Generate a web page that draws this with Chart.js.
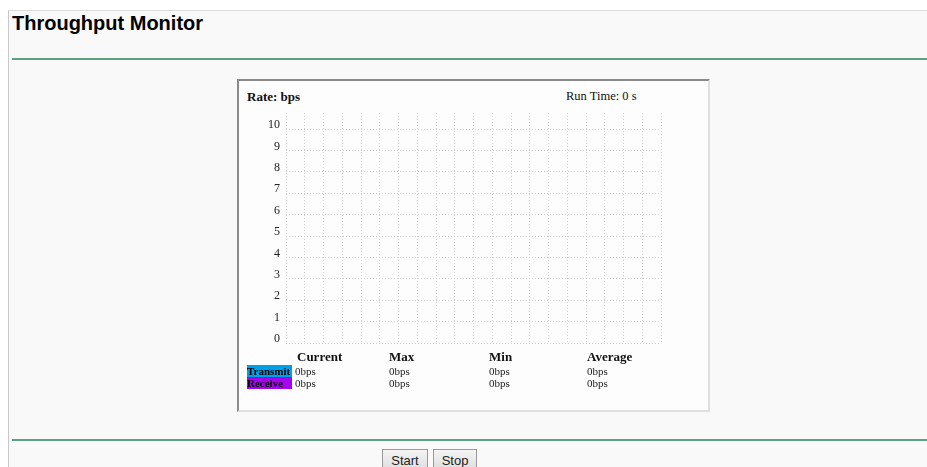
<!DOCTYPE html>
<html>
<head>
<meta charset="utf-8">
<script src="https://cdn.jsdelivr.net/npm/chart.js@4/dist/chart.umd.min.js"></script>
<style>
  body { margin: 0; background: #fff; width: 927px; height: 467px; overflow: hidden; position: relative; font-family: "Liberation Serif", "Times New Roman", serif; }
  #frame { position: absolute; left: 8px; top: 10px; width: 930px; height: 470px; background: #f9f9f9; border-left: 1px solid #c8c8c8; border-top: 1px solid #dcdcdc; }
  #title { position: absolute; left: 12px; top: 12px; font: bold 20px "Liberation Sans", Arial, sans-serif; color: #000; }
  .rule { position: absolute; left: 12px; width: 915px; height: 2px; background: #5fa282; }
  #box { position: absolute; left: 237px; top: 79px; width: 469px; height: 329px; background: #fdfdfd;
         border-top: 2px solid #8a8a8a; border-left: 2px solid #8a8a8a; border-right: 2px solid #e0e0e0; border-bottom: 2px solid #e0e0e0; }
  .t { position: absolute; font-size: 12px; color: #111; white-space: nowrap; }
  .h { font-weight: bold; font-size: 13px; }
  .v { font-size: 11px; color: #222; }
  #chartWrap { position: absolute; left: 250px; top: 105px; width: 416px; height: 245px; }
  button { position: absolute; top: 449px; height: 22px; font: 13px "Liberation Sans", Arial, sans-serif; color: #222;
           background: linear-gradient(#f4f4f4, #dedede); border: 1px solid #9a9a9a; padding: 0 6px; }
</style>
</head>
<body>
<div id="frame"></div>
<div id="title">Throughput Monitor</div>
<div class="rule" style="top:58px"></div>
<div class="rule" style="top:439px"></div>
<div id="box"></div>
<div class="t" style="left:247px;top:89px;font-weight:bold;font-size:13px">Rate: bps</div>
<div class="t" id="runTime" style="left:566px;top:89px;font-size:12.5px"></div>
<div id="chartWrap"><canvas id="chart" width="416" height="245"></canvas></div>
<div id="stats"></div>
<button style="left:382px;width:46px">Start</button>
<button style="left:433px;width:44px">Stop</button>
<script>
// 데이터
const yTicks = [0, 1, 2, 3, 4, 5, 6, 7, 8, 9, 10];
const xSlots = [0, 1, 2, 3, 4, 5, 6, 7, 8, 9, 10, 11, 12, 13, 14, 15, 16, 17, 18, 19, 20];
const transmitValues = [];   // 아직 측정값 없음 (Run Time 0 s)
const receiveValues = [];
const seriesNames = ['Transmit', 'Receive'];
const seriesColors = ['#00a0e8', '#a800f0'];
const statHeaders = ['Current', 'Max', 'Min', 'Average'];
const transmitStats = ['0bps', '0bps', '0bps', '0bps'];
const receiveStats = ['0bps', '0bps', '0bps', '0bps'];
const runTime = 0;

document.getElementById('runTime').textContent = 'Run Time: ' + runTime + ' s';

// 아래 통계 표
const colX = [297, 389, 489, 587];
const stats = document.getElementById('stats');
let html = '';
statHeaders.forEach((h, i) => {
  html += `<div class="t h" style="left:${colX[i]}px;top:349px">${h}</div>`;
});
[transmitStats, receiveStats].forEach((row, r) => {
  const top = 365 + r * 12;
  html += `<div class="t v" style="left:247px;top:${top}px;width:45px;height:12px;line-height:12px;background:${seriesColors[r]};color:#000;font-weight:bold;font-size:11px">${seriesNames[r]}</div>`;
  row.forEach((v, i) => {
    html += `<div class="t v" style="left:${i === 0 ? 295 : colX[i]}px;top:${top}px;line-height:12px">${v}</div>`;
  });
});
stats.innerHTML = html;

const gridStyle = { color: '#cfcfcf', lineWidth: 1, drawTicks: false };
const dotted = { display: false, dash: [1, 2] };

new Chart(document.getElementById('chart'), {
  type: 'line',
  data: {
    datasets: [
      { label: seriesNames[0], data: transmitValues, borderColor: seriesColors[0], pointRadius: 0, borderWidth: 1 },
      { label: seriesNames[1], data: receiveValues, borderColor: seriesColors[1], pointRadius: 0, borderWidth: 1 }
    ]
  },
  options: {
    responsive: false,
    animation: false,
    layout: { padding: { top: 8, right: 5, bottom: 7, left: 0 } },
    plugins: { legend: { display: false }, tooltip: { enabled: false } },
    scales: {
      x: {
        type: 'linear',
        min: xSlots[0],
        max: xSlots[xSlots.length - 1],
        afterBuildTicks: axis => { axis.ticks = xSlots.map(v => ({ value: v })); },
        afterFit: axis => { axis.height = 0; axis.paddingLeft = 0; axis.paddingRight = 0; },
        ticks: { display: false },
        grid: gridStyle,
        border: dotted
      },
      y: {
        min: 0,
        max: 10.75,
        afterBuildTicks: axis => { axis.ticks = yTicks.map(v => ({ value: v })); },
        afterFit: axis => { axis.width = 36; axis.paddingTop = 0; axis.paddingBottom = 0; },
        ticks: {
          padding: 6,
          labelOffset: -4,
          color: '#222',
          font: { family: '"Liberation Serif", "Times New Roman", serif', size: 12 }
        },
        grid: gridStyle,
        border: dotted
      }
    }
  }
});
</script>
</body>
</html>
